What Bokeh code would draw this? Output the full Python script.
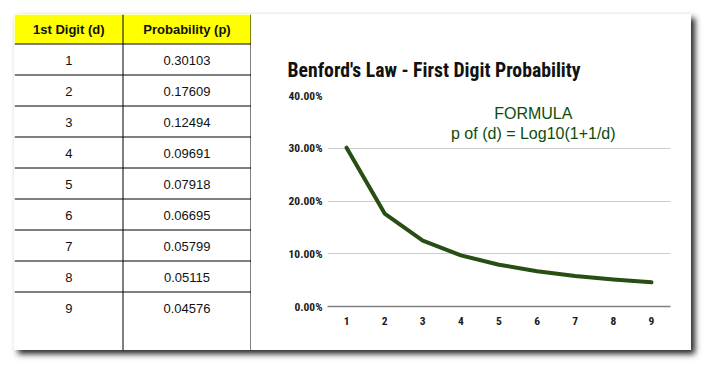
from bokeh.plotting import figure
from bokeh.layouts import row, column
from bokeh.models import (Range1d, FixedTicker, NumeralTickFormatter, Label, Title,
                          ColumnDataSource, Spacer)
from bokeh.core.properties import value
from bokeh.embed import file_html
from bokeh.resources import INLINE

# ---------------- data ----------------
header_digit = "1st Digit (d)"
header_prob = "Probability (p)"
digits = [1, 2, 3, 4, 5, 6, 7, 8, 9]
probs = [0.30103, 0.17609, 0.12494, 0.09691, 0.07918, 0.06695, 0.05799, 0.05115, 0.04576]
y_ticks = [0.0, 0.1, 0.2, 0.3, 0.4]
chart_title = "Benford's Law - First Digit Probability"
formula_lines = ["FORMULA", "p of (d) = Log10(1+1/d)"]

GREEN = "#274e13"
TEXT_GREEN = "#0e4c0a"
NARROW = "'Roboto Condensed', Roboto"
ARIAL = "Liberation Sans"

# ---------------- table (left) ----------------
L_X0, L_X1 = 14, 251
TOP, BOTTOM = 14, 350
HEAD_B = 43
ROW_H = 31
COL_DIV = 122.5
COL_R = 250.5

tbl = figure(width=L_X1 - L_X0, height=BOTTOM - TOP, output_backend="svg",
             toolbar_location=None, x_range=Range1d(L_X0, L_X1),
             y_range=Range1d(BOTTOM, TOP), min_border=0, frame_align=False)
tbl.axis.visible = False
tbl.grid.visible = False
tbl.outline_line_color = None
tbl.background_fill_color = "white"
tbl.border_fill_color = "white"

tbl.quad(left=[L_X0], right=[COL_R], top=[TOP], bottom=[HEAD_B], fill_color="#ffff00",
         line_color=None)

n = len(digits)
row_lines = [HEAD_B + i * ROW_H + 0.5 for i in range(n)]
tbl.segment(x0=[L_X0] * n, x1=[COL_R + 0.5] * n, y0=row_lines, y1=row_lines,
            line_color="black", line_width=1)
tbl.segment(x0=[COL_DIV, COL_R], x1=[COL_DIV, COL_R], y0=[TOP, TOP], y1=[BOTTOM, BOTTOM],
            line_color="black", line_width=1)

c1 = (L_X0 + COL_DIV) / 2
c2 = (COL_DIV + COL_R) / 2
tbl.text(x=[c1, c2], y=[(TOP + HEAD_B) / 2 + 0.5] * 2, text=[header_digit, header_prob],
         text_font=value(ARIAL), text_font_style="bold", text_font_size="13px",
         text_color="#111111", text_align="center", text_baseline="middle")

src = ColumnDataSource(dict(
    x1=[c1] * n, x2=[c2] * n,
    y=[HEAD_B + i * ROW_H + ROW_H / 2 + 1 for i in range(n)],
    d=[str(d) for d in digits],
    p=["%.5f" % v for v in probs],
))
tbl.text(x="x1", y="y", text="d", source=src, text_font=value(ARIAL),
         text_font_size="13px", text_color="#111111", text_align="center",
         text_baseline="middle")
tbl.text(x="x2", y="y", text="p", source=src, text_font=value(ARIAL),
         text_font_size="13px", text_color="#111111", text_align="center",
         text_baseline="middle")

# ---------------- chart (right) ----------------
R_X0, R_X1 = 251, 691
FR_L, FR_R, FR_T, FR_B = 327, 670, 95, 306

p = figure(width=R_X1 - R_X0, height=BOTTOM - TOP, output_backend="svg",
           toolbar_location=None, x_range=Range1d(0.5, 9.5), y_range=Range1d(0, 0.4),
           min_border_left=FR_L - R_X0, min_border_right=R_X1 - FR_R,
           min_border_top=FR_T - TOP, min_border_bottom=BOTTOM - FR_B,
           frame_align=False)
p.outline_line_color = None
p.background_fill_color = "white"
p.border_fill_color = "white"

p.title = Title(text=chart_title, align="left", offset=-(FR_L - 287),
                standoff=28, text_font=NARROW, text_font_size="19.7px",
                text_font_style="bold", text_color="#111111")

p.xaxis.ticker = FixedTicker(ticks=digits)
p.yaxis.ticker = FixedTicker(ticks=y_ticks)
p.yaxis.formatter = NumeralTickFormatter(format="0.00%")
p.xgrid.visible = False
p.ygrid.grid_line_color = "#cccccc"
p.ygrid.grid_line_width = 1

for ax in (p.xaxis, p.yaxis):
    ax.major_tick_line_color = None
    ax.minor_tick_line_color = None
    ax.major_tick_out = 0
    ax.major_tick_in = 0
    ax.minor_tick_out = 0
    ax.major_label_text_font = NARROW
    ax.major_label_text_font_style = "bold"
    ax.major_label_text_font_size = "11.5px"
    ax.major_label_text_color = "#1a1a1a"
p.yaxis.axis_line_color = None
p.yaxis.major_label_standoff = 5
p.xaxis.axis_line_color = "#808080"
p.xaxis.axis_line_width = 1.5
p.xaxis.major_label_standoff = 10

p.line(digits, probs, line_color=GREEN, line_width=4, line_join="round", line_cap="round")

p.add_layout(Label(x=5.9, y=0.366, text=formula_lines[0], text_font=ARIAL,
                   text_font_size="16px", text_color=TEXT_GREEN, text_align="center",
                   text_baseline="middle"))
p.add_layout(Label(x=5.9, y=0.328, text=formula_lines[1], text_font=ARIAL,
                   text_font_size="16px", text_color=TEXT_GREEN, text_align="center",
                   text_baseline="middle"))

sheet = row(tbl, p, spacing=0,
            styles={"box-shadow": "4px 4px 6px rgba(0,0,0,0.85)"})
top_pad = Spacer(height=TOP, width=R_X1)
left_pad = Spacer(width=L_X0, height=BOTTOM - TOP)
layout = column(top_pad, row(left_pad, sheet, spacing=0), spacing=0)

open("out.html", "w").write(file_html(layout, INLINE))
